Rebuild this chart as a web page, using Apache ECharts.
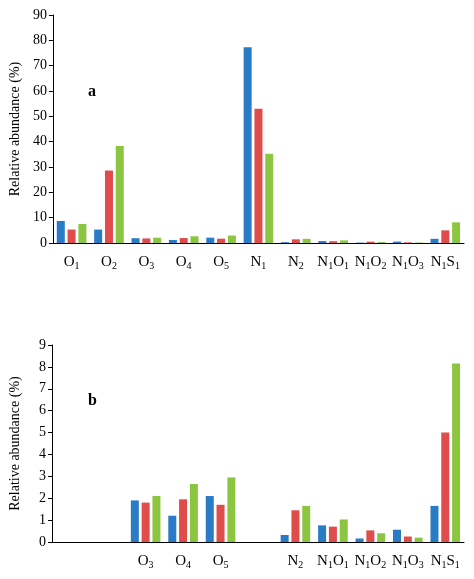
<!DOCTYPE html>
<html>
<head>
<meta charset="utf-8">
<script src="https://cdn.jsdelivr.net/npm/echarts@6/dist/echarts.min.js"></script>
<style>html,body{margin:0;padding:0;background:#fff}#c{width:474px;height:579px}</style>
</head>
<body>
<div id="c"></div>
<script>
var categoriesA = ['O1','O2','O3','O4','O5','N1','N2','N1O1','N1O2','N1O3','N1S1'];
var categoriesB = ['','','O3','O4','O5',' ','N2','N1O1','N1O2','N1O3','N1S1'];
var seriesBlue  = [8.7, 5.3, 1.9, 1.2, 2.1, 77.3, 0.32, 0.76, 0.16, 0.56, 1.65];
var seriesRed   = [5.3, 28.6, 1.8, 1.95, 1.7, 53.0, 1.45, 0.7, 0.53, 0.25, 5.0];
var seriesGreen = [7.5, 38.3, 2.1, 2.65, 2.95, 35.2, 1.65, 1.03, 0.4, 0.2, 8.15];
// panel b hides O1, O2, N1
var hiddenInB = [0, 1, 5];
var colors = ['#2a7bc6', '#e04b4b', '#8cc640'];
var font = 'Liberation Serif';

function sub(v) {
  return v.replace(/(\d)/g, '{s|$1}').replace(/([A-Z])/g, '{t|$1}');
}
function pick(arr) {
  return arr.map(function (v, i) { return hiddenInB.indexOf(i) >= 0 ? null : v; });
}

var chart = echarts.init(document.getElementById('c'));

function xAxis(idx, data) {
  return {
    type: 'category', gridIndex: idx, data: data,
    axisLine: {lineStyle: {color: '#000'}},
    axisTick: {show: false},
    axisLabel: {
      interval: 0, margin: 10, color: '#000', fontFamily: font,
      formatter: sub,
      rich: {
        t: {fontSize: 15, fontFamily: font, color: '#000', padding: [0, 0, 0, 0]},
        s: {fontSize: 10, fontFamily: font, color: '#000', padding: [8, 0, 0, 0]}
      }
    }
  };
}
function yAxis(idx, max, interval) {
  return {
    type: 'value', gridIndex: idx, min: 0, max: max, interval: interval,
    name: 'Relative abundance (%)', nameLocation: 'middle', nameGap: 30,
    nameTextStyle: {fontFamily: font, fontSize: 14, color: '#000'},
    axisLine: {show: true, lineStyle: {color: '#000'}},
    axisTick: {show: true, length: 4, lineStyle: {color: '#000'}},
    splitLine: {show: false},
    axisLabel: {fontFamily: font, fontSize: 14, color: '#000', margin: 6}
  };
}
function bars(idx, list) {
  return list.map(function (d, k) {
    return {
      type: 'bar', xAxisIndex: idx, yAxisIndex: idx, data: d,
      barWidth: 8, barGap: '35%', itemStyle: {color: colors[k]}, silent: true
    };
  });
}

chart.setOption({
  animation: false,
  grid: [
    {left: 50, right: 10, top: 15, height: 228},
    {left: 50, right: 10, top: 345, height: 197}
  ],
  xAxis: [xAxis(0, categoriesA), xAxis(1, categoriesB)],
  yAxis: [yAxis(0, 90, 10), yAxis(1, 9, 1)],
  graphic: [
    {type: 'text', left: 88, top: 84, style: {text: 'a', font: 'bold 16px ' + font, fill: '#000'}},
    {type: 'text', left: 88, top: 393, style: {text: 'b', font: 'bold 16px ' + font, fill: '#000'}}
  ],
  series: bars(0, [seriesBlue, seriesRed, seriesGreen])
    .concat(bars(1, [pick(seriesBlue), pick(seriesRed), pick(seriesGreen)]))
});
</script>
</body>
</html>
